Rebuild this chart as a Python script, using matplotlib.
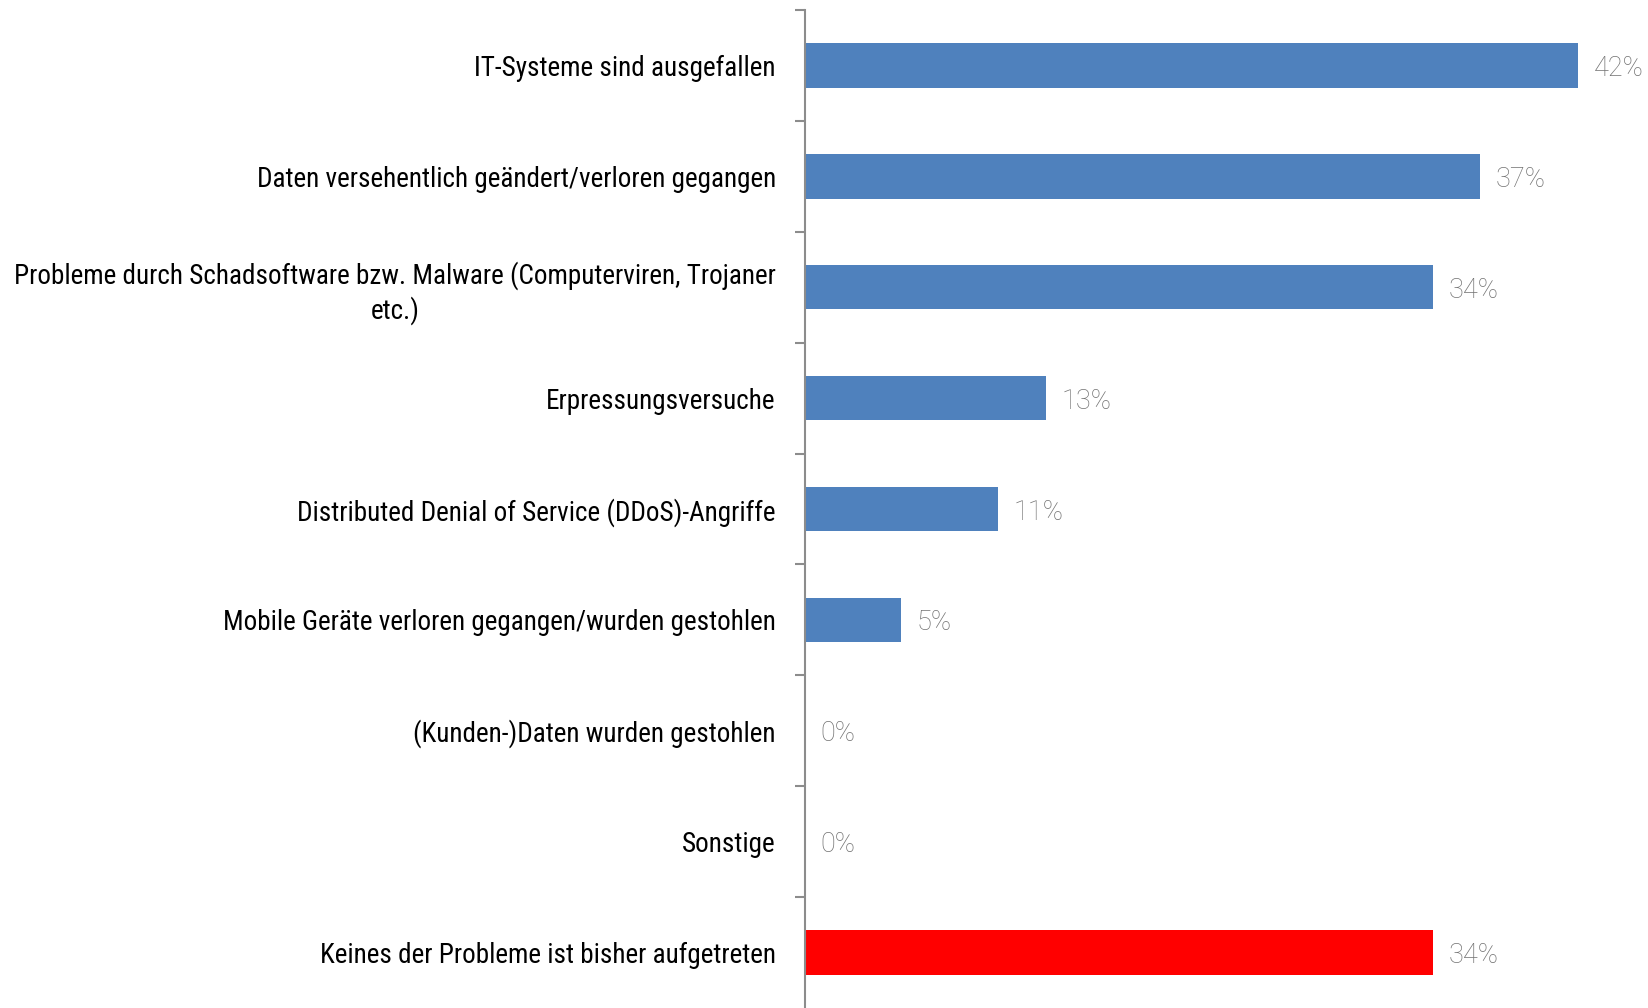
import numpy as np
import matplotlib.pyplot as plt
from matplotlib import font_manager

categories = [
    "IT-Systeme sind ausgefallen",
    "Daten versehentlich geändert/verloren gegangen",
    "Probleme durch Schadsoftware bzw. Malware (Computerviren, Trojaner\netc.)",
    "Erpressungsversuche",
    "Distributed Denial of Service (DDoS)-Angriffe",
    "Mobile Geräte verloren gegangen/wurden gestohlen",
    "(Kunden-)Daten wurden gestohlen",
    "Sonstige",
    "Keines der Probleme ist bisher aufgetreten",
]
values = [42, 36.7, 34.1, 13.1, 10.5, 5.2, 0, 0, 34.1]
value_labels = ["42%", "37%", "34%", "13%", "11%", "5%", "0%", "0%", "34%"]
bar_colors = ["#4F81BD"] * 8 + ["#FF0000"]

# narrow font if there is one, else plain Liberation Sans a bit smaller
names = {f.name for f in font_manager.fontManager.ttflist}
label_font, label_size = "Liberation Sans", 17.2
for cand, size in [("Arial Narrow", 21), ("Liberation Sans Narrow", 21), ("Roboto Condensed", 19.5)]:
    if cand in names:
        label_font, label_size = cand, size
        break

fig = plt.figure(figsize=(16.49, 10.08), dpi=100)
ax = fig.add_axes([805 / 1649, 0.0, (1578 - 805) / 1649, 998 / 1008])

y = np.arange(len(categories))
ax.barh(y, values, height=0.4, color=bar_colors)
ax.set_xlim(0, 42)
ax.set_ylim(len(categories) - 0.5, -0.5)

for yi, v, lab in zip(y, values, value_labels):
    ax.text(v + 0.85, yi, lab, va="center_baseline", ha="left", fontsize=19.5,
            color="#717171", family="Roboto", fontweight="light", clip_on=False)

ax.set_yticks(y)
ax.set_yticklabels(categories, fontsize=label_size, family=label_font,
                   multialignment="center", linespacing=1.25)
ax.tick_params(axis="y", which="major", length=0, pad=21)
ax.set_yticks(np.arange(-0.5, len(categories) - 0.5, 1), minor=True)
ax.tick_params(axis="y", which="minor", length=7, width=1.5, color="#8c8c8c", direction="out")
ax.set_xticks([])

for s in ["top", "right", "bottom"]:
    ax.spines[s].set_visible(False)
ax.spines["left"].set_color("#8c8c8c")
ax.spines["left"].set_linewidth(1.5)

fig.savefig("out.png", dpi=100)
